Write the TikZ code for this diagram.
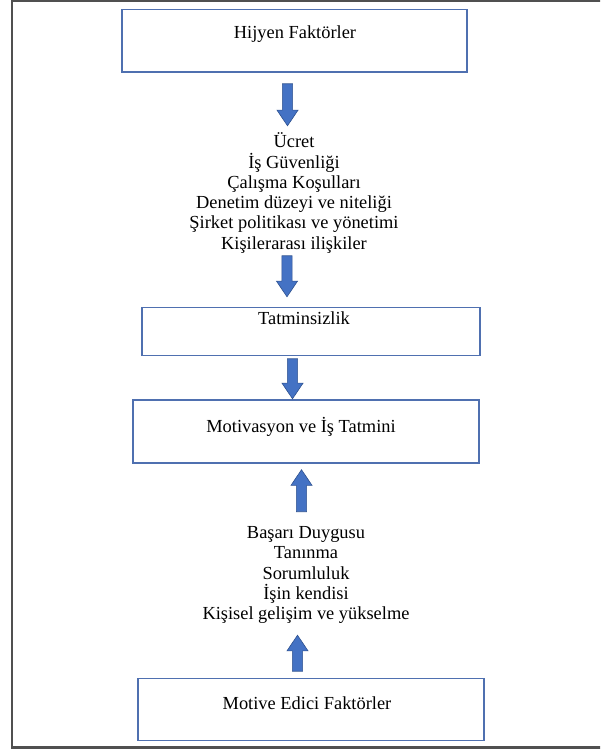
\documentclass[tikz,border=0pt]{standalone}
\usepackage{fontspec}
\setmainfont{Liberation Serif}
\usetikzlibrary{shapes.arrows}
\definecolor{boxline}{HTML}{4F70B0}
\definecolor{arrowfill}{HTML}{4472C4}
\definecolor{arrowline}{HTML}{2F528F}
\definecolor{frameline}{HTML}{505050}
\begin{document}
\begin{tikzpicture}[x=1pt,y=-1pt,
  box/.style={draw=boxline, line width=1.3pt, rectangle, inner sep=0pt},
  lbl/.style={font=\fontsize{18.4}{20.3}\selectfont, inner sep=0pt, align=center},
  blockarrow/.style={single arrow, draw=arrowline, fill=arrowfill, line width=0.6pt,
    inner xsep=0pt, inner ysep=4.8pt, single arrow head extend=5.5pt,
    single arrow tip angle=68},
  down/.style={blockarrow, rotate=-90},
  up/.style={blockarrow, rotate=90}]
\useasboundingbox (0,0) rectangle (600,751);
\clip (0,0) rectangle (600,751);
% outer frame, running off the right edge
\draw[frameline, line width=2.2pt] (12,1) rectangle (620,747.5);

% boxes
\node[box, minimum width=345pt, minimum height=62.5pt] (hyg) at (294.5,40.75) {};
\node[box, minimum width=338pt, minimum height=47.5pt] (tat) at (311,331.5) {};
\node[box, minimum width=346pt, minimum height=63pt] (mot) at (306,431.5) {};
\node[box, minimum width=346pt, minimum height=62.5pt] (med) at (311,709.5) {};

% box labels
\node[lbl] (hygt) at (295,34) {Hijyen Faktörler};
\node[lbl] (tatt) at (304,318) {Tatminsizlik};
\node[lbl] (mott) at (301,427) {Motivasyon ve İş Tatmini};
\node[lbl] (medt) at (307,703) {Motive Edici Faktörler};

% factor lists
\node[lbl] (hyglist) at (294,193) {Ücret\\İş Güvenliği\\Çalışma Koşulları\\Denetim düzeyi ve niteliği\\Şirket politikası ve yönetimi\\Kişilerarası ilişkiler};
\node[lbl] (medlist) at (306,575) {Başarı Duygusu\\Tanınma\\Sorumluluk\\İşin kendisi\\Kişisel gelişim ve yükselme};

% block arrows (the shape's centre sits on its shaft, so they are offset towards the tail)
\node[down, minimum height=42pt] (a1) at (287.5,101) {};
\node[down, minimum height=41pt] (a2) at (287,272.5) {};
\node[down, minimum height=40pt] (a3) at (292.5,375) {};
\node[up, minimum height=42pt] (a4) at (301.5,494.5) {};
\node[up, minimum height=36pt] (a5) at (297.5,657) {};
\end{tikzpicture}
\end{document}
